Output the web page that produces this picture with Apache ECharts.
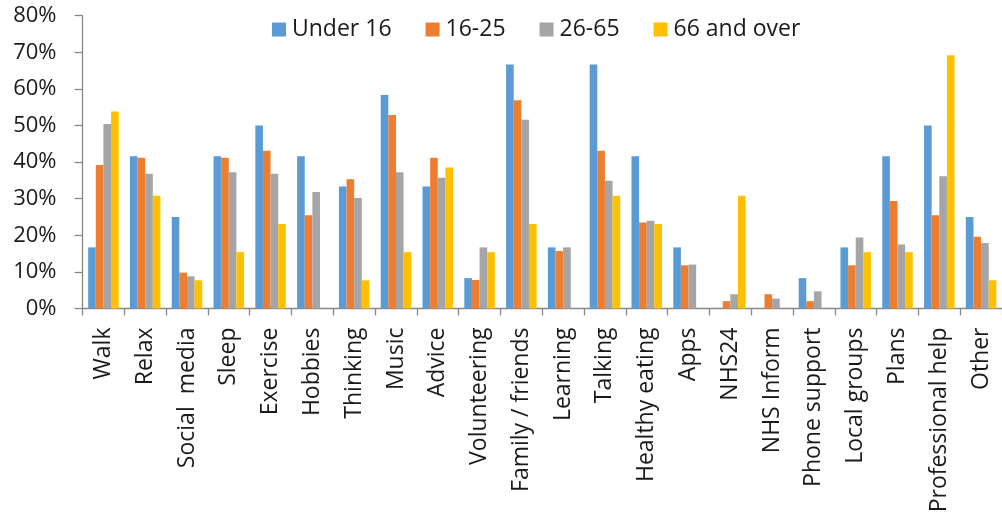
<!DOCTYPE html>
<html>
<head>
<meta charset="utf-8">
<title>Coping strategies by age group</title>
<script src="https://cdn.jsdelivr.net/npm/echarts@6/dist/echarts.min.js"></script>
<style>
  html, body { margin: 0; padding: 0; background: #ffffff; }
  #chart { width: 1002px; height: 518px; }
</style>
</head>
<body>
<div id="chart"></div>
<script>
// Activities people said they use, one group of bars per activity
const categories = [
  'Walk', 'Relax', 'Social  media', 'Sleep', 'Exercise', 'Hobbies', 'Thinking',
  'Music', 'Advice', 'Volunteering', 'Family / friends', 'Learning', 'Talking',
  'Healthy eating', 'Apps', 'NHS24', 'NHS Inform', 'Phone support',
  'Local groups', 'Plans', 'Professional help', 'Other'
];

// Share of respondents (%) in each age group
const under16 = [16.7, 41.6, 25.0, 41.6, 50.0, 41.6, 33.3, 58.3, 33.3, 8.3, 66.7, 16.7, 66.7, 41.6, 16.7, 0, 0, 8.3, 16.7, 41.6, 50.0, 25.0];
const age16to25 = [39.2, 41.2, 9.8, 41.2, 43.1, 25.5, 35.3, 52.9, 41.2, 7.8, 56.9, 15.7, 43.1, 23.5, 11.8, 2.0, 3.9, 2.0, 11.8, 29.4, 25.5, 19.6];
const age26to65 = [50.4, 36.8, 8.8, 37.2, 36.8, 31.8, 30.2, 37.2, 35.7, 16.7, 51.6, 16.7, 34.9, 24.0, 12.0, 3.9, 2.7, 4.7, 19.4, 17.5, 36.1, 17.9];
const age66plus = [53.8, 30.8, 7.7, 15.4, 23.1, 0, 7.7, 15.4, 38.5, 15.4, 23.1, 0, 30.8, 23.1, 0, 30.8, 0, 0, 15.4, 15.4, 69.2, 7.7];

// Value axis ticks
const yMin = 0;
const yMax = 80;
const yStep = 10;

const seriesNames = ['Under 16', '16-25', '26-65', '66 and over'];
const seriesData = [under16, age16to25, age26to65, age66plus];
const palette = ['#5B9BD5', '#ED7D31', '#A5A5A5', '#FFC000'];

const FONT = 'Open Sans';
const TEXT = '#1a1a1a';
const AXIS = '#888888';

const chart = echarts.init(document.getElementById('chart'), null, { renderer: 'canvas' });

chart.setOption({
  animation: false,
  color: palette,
  textStyle: { fontFamily: FONT },
  legend: {
    left: 272,
    top: 18,
    padding: 0,
    itemWidth: 14,
    itemHeight: 14,
    itemGap: 34,
    icon: 'rect',
    textStyle: { fontFamily: FONT, fontSize: 23, color: TEXT, padding: [0, 0, 0, 1] },
    data: seriesNames
  },
  grid: {
    left: 82.5,
    right: -1.5,
    top: 15.7,
    bottom: 518 - 308.5,
    containLabel: false
  },
  xAxis: {
    type: 'category',
    data: categories,
    axisLine: { show: true, lineStyle: { color: AXIS, width: 1.3 } },
    axisTick: { show: true, alignWithLabel: false, length: 7, lineStyle: { color: AXIS, width: 1.3 } },
    axisLabel: {
      interval: 0,
      rotate: 90,
      margin: 19,
      fontFamily: FONT,
      fontSize: 23,
      color: TEXT
    },
    splitLine: { show: false }
  },
  yAxis: {
    type: 'value',
    min: yMin,
    max: yMax,
    interval: yStep,
    axisLine: { show: true, lineStyle: { color: AXIS, width: 1.3 } },
    axisTick: { show: true, length: 8, lineStyle: { color: AXIS, width: 1.3 } },
    axisLabel: {
      formatter: '{value}%',
      margin: 26,
      fontFamily: FONT,
      fontSize: 22,
      color: TEXT
    },
    splitLine: { show: false }
  },
  series: seriesNames.map((name, i) => ({
    name: name,
    type: 'bar',
    data: seriesData[i],
    barGap: '0%',
    barCategoryGap: '27%',
    itemStyle: { color: palette[i] }
  }))
});
</script>
</body>
</html>
